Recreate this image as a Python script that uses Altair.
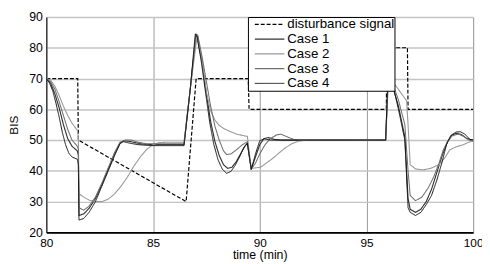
import altair as alt
import pandas as pd

SERIES = ["disturbance signal", "Case 1", "Case 2", "Case 3", "Case 4"]
COLORS = ["#000000", "#333333", "#9a9a9a", "#707070", "#111111"]
DASHES = [[4, 2], [1, 0], [1, 0], [1, 0], [1, 0]]
WIDTHS = [1.2, 1.0, 1.0, 1.1, 1.8]

X_TICKS = [80, 85, 90, 95, 100]
Y_TICKS = [20, 30, 40, 50, 60, 70, 80, 90]

DIST = [(80, 70), (81.47, 70), (81.5, 50), (86.55, 30), (87.02, 70), (89.46, 70),
        (89.5, 60), (95.93, 60), (95.96, 80), (96.92, 80), (96.95, 60), (100, 60)]

CASE1 = [(80, 70), (80.2, 68.5), (80.4, 65), (80.6, 60.5), (80.8, 55), (81.0, 50.5),
         (81.2, 48), (81.45, 46.5), (81.5, 45), (81.53, 25.5), (81.75, 26), (82.0, 27.8),
         (82.3, 31), (82.6, 35.5), (82.9, 40.5), (83.2, 45.5), (83.45, 49), (83.65, 49.8),
         (83.95, 49.5), (84.4, 48.8), (85, 48.5), (86.45, 48.5), (86.75, 67), (87.0, 84),
         (87.08, 83.5), (87.3, 75), (87.5, 65), (87.7, 56), (87.9, 49.5), (88.1, 45),
         (88.3, 42), (88.5, 40.8), (88.7, 41.2), (88.9, 43), (89.1, 45.5), (89.3, 48),
         (89.42, 49), (89.6, 40.6), (89.8, 44.5), (90.0, 48.5), (90.2, 50.5), (90.4, 50.8),
         (90.7, 50.2), (91, 50), (95.9, 50), (96.05, 77), (96.25, 67), (96.5, 61),
         (96.8, 51), (96.95, 31), (97.05, 27.5), (97.3, 26.5), (97.55, 27.5), (97.8, 30),
         (98.05, 34), (98.3, 39.5), (98.55, 45), (98.8, 49.5), (99.0, 51.5), (99.2, 52.2),
         (99.45, 51.8), (99.7, 50.5), (100, 50)]

CASE2 = [(80, 70), (80.2, 69.5), (80.4, 67.5), (80.6, 64.5), (80.8, 61), (81.0, 58),
         (81.2, 55.5), (81.45, 53.2), (81.5, 51), (81.53, 32.5), (81.75, 31.5), (82.0, 30.5),
         (82.3, 30), (82.6, 30), (82.9, 30.8), (83.2, 32.5), (83.5, 35), (83.8, 38),
         (84.1, 41.5), (84.4, 44.5), (84.7, 47), (85.0, 48.5), (85.3, 49.2), (85.7, 49.3),
         (86.45, 49.3), (86.75, 67), (87.05, 83), (87.15, 81), (87.3, 75.5), (87.5, 65.5),
         (87.7, 59.5), (87.9, 56.5), (88.1, 54.8), (88.3, 53.8), (88.6, 52.8), (88.9, 52),
         (89.2, 51.5), (89.42, 51.2), (89.6, 40.8), (89.85, 41), (90.05, 41.2), (90.3, 42.5),
         (90.6, 44), (90.9, 45.8), (91.2, 47.5), (91.5, 48.8), (91.8, 49.6), (92.2, 50),
         (95.9, 50), (96.05, 72), (96.25, 68.7), (96.5, 66.5), (96.7, 64.5), (96.88, 62.8),
         (96.95, 55), (97.05, 42), (97.3, 40.6), (97.65, 40.3), (98.0, 40.8), (98.4, 42),
         (98.7, 44.5), (98.9, 46.8), (99.2, 47.8), (99.5, 48.4), (99.8, 49.3), (100, 49.8)]

CASE3 = [(80, 70), (80.2, 69), (80.4, 66.5), (80.6, 62.5), (80.8, 58), (81.0, 53.5),
         (81.2, 50), (81.45, 48), (81.5, 47), (81.53, 28), (81.75, 27.2), (82.0, 28.5),
         (82.3, 31.5), (82.6, 36), (82.9, 41), (83.2, 46), (83.45, 49.3), (83.7, 50),
         (84.0, 50), (84.3, 49.3), (84.7, 48.8), (85.2, 48.8), (86.45, 48.8), (86.75, 67),
         (87.02, 84.5), (87.1, 84), (87.3, 77), (87.5, 69), (87.7, 61), (87.9, 54.5),
         (88.1, 50), (88.3, 46.5), (88.45, 45.3), (88.65, 45.5), (88.9, 46.8), (89.15, 48.3),
         (89.42, 49.5), (89.6, 40.6), (89.8, 42.5), (90.0, 45.5), (90.25, 48.5), (90.5, 50.5),
         (90.8, 51.7), (91.0, 51.9), (91.3, 51), (91.6, 50.2), (92, 50), (95.9, 50),
         (96.05, 75), (96.25, 68), (96.5, 63), (96.8, 55), (96.95, 40), (97.05, 32),
         (97.3, 30.3), (97.6, 31.5), (97.9, 34.5), (98.15, 38), (98.4, 42.5), (98.6, 46.8),
         (98.8, 49.5), (99.0, 51.3), (99.3, 52), (99.55, 51.2), (99.8, 50), (100, 49.6)]

CASE4 = [(80, 70), (80.15, 68.5), (80.3, 66), (80.45, 62), (80.6, 57.5), (80.75, 52.5),
         (80.9, 48.5), (81.05, 45.8), (81.2, 44.5), (81.45, 43.8), (81.5, 42), (81.53, 24),
         (81.75, 24.5), (82.0, 26.5), (82.3, 30), (82.6, 35), (82.9, 40), (83.2, 45),
         (83.45, 48.8), (83.6, 49.5), (83.9, 49), (84.3, 48.5), (85.0, 48.2), (86.45, 48.2),
         (86.75, 67), (86.98, 84.5), (87.05, 84), (87.25, 76), (87.45, 66), (87.65, 56),
         (87.85, 48.5), (88.05, 43.5), (88.25, 40.5), (88.45, 39.2), (88.65, 39.8),
         (88.85, 41.8), (89.05, 44.5), (89.25, 47.5), (89.42, 49), (89.6, 40.4), (89.8, 45.5),
         (90.0, 49.8), (90.2, 50.4), (90.5, 50), (91.0, 50), (95.9, 50), (96.05, 78),
         (96.25, 67.5), (96.5, 60), (96.8, 50), (96.95, 28), (97.05, 26.5), (97.3, 25.5),
         (97.55, 26.5), (97.8, 29), (98.05, 32), (98.3, 37), (98.55, 43), (98.75, 48.5),
         (98.95, 51.5), (99.2, 52.6), (99.4, 52.7), (99.6, 52), (99.85, 50.2), (100, 50)]

rows = []
for name, pts in zip(SERIES, [DIST, CASE1, CASE2, CASE3, CASE4]):
    for i, (t, v) in enumerate(pts):
        rows.append({"series": name, "t": t, "v": v, "i": i})
df = pd.DataFrame(rows)

FONT = "Liberation Sans"

def leg():
    return alt.Legend(
        orient="none", legendX=205, legendY=0, title=None,
        fillColor="white", strokeColor="black", padding=0,
        symbolType="stroke", symbolSize=900, symbolStrokeColor="black",
        labelFont=FONT, labelFontSize=13.5, labelColor="black", labelOffset=2,
        rowPadding=0, symbolOffset=6, clipHeight=15, labelLimit=160,
    )

chart = alt.Chart(df).mark_line().encode(
    x=alt.X("t:Q", scale=alt.Scale(domain=[80, 100], nice=False, zero=False),
            axis=alt.Axis(values=X_TICKS, title="time (min)", grid=True, gridColor="#999999",
                          gridWidth=1, ticks=False, labelPadding=5, domainColor="black",
                          domainWidth=2, labelFont=FONT, labelFontSize=12, labelColor="black",
                          titleFont=FONT, titleFontSize=12.5, titleFontWeight="normal",
                          titleColor="black", titlePadding=1, labelFlush=False)),
    y=alt.Y("v:Q", scale=alt.Scale(domain=[20, 90], nice=False, zero=False),
            axis=alt.Axis(values=Y_TICKS, title="BIS", grid=True, gridColor="#c4c4c4",
                          gridWidth=1.5, ticks=False, labelPadding=4, domainColor="black",
                          domainWidth=1, labelFont=FONT, labelFontSize=12.5, labelColor="black",
                          titleFont=FONT, titleFontSize=12, titleFontWeight="normal",
                          titleColor="black", titlePadding=8)),
    color=alt.Color("series:N", scale=alt.Scale(domain=SERIES, range=COLORS), legend=leg()),
    strokeDash=alt.StrokeDash("series:N", scale=alt.Scale(domain=SERIES, range=DASHES), legend=leg()),
    strokeWidth=alt.StrokeWidth("series:N", scale=alt.Scale(domain=SERIES, range=WIDTHS), legend=leg()),
    order=alt.Order("i:Q"),
).properties(
    width=434, height=219,
    autosize=alt.AutoSizeParams(type="none"),
    padding={"left": 39, "top": 7, "right": 9, "bottom": 30},
).configure_view(stroke="black", strokeWidth=1).configure(background="white")

chart.save("out.html", embed_options={"renderer": "svg", "actions": False})
